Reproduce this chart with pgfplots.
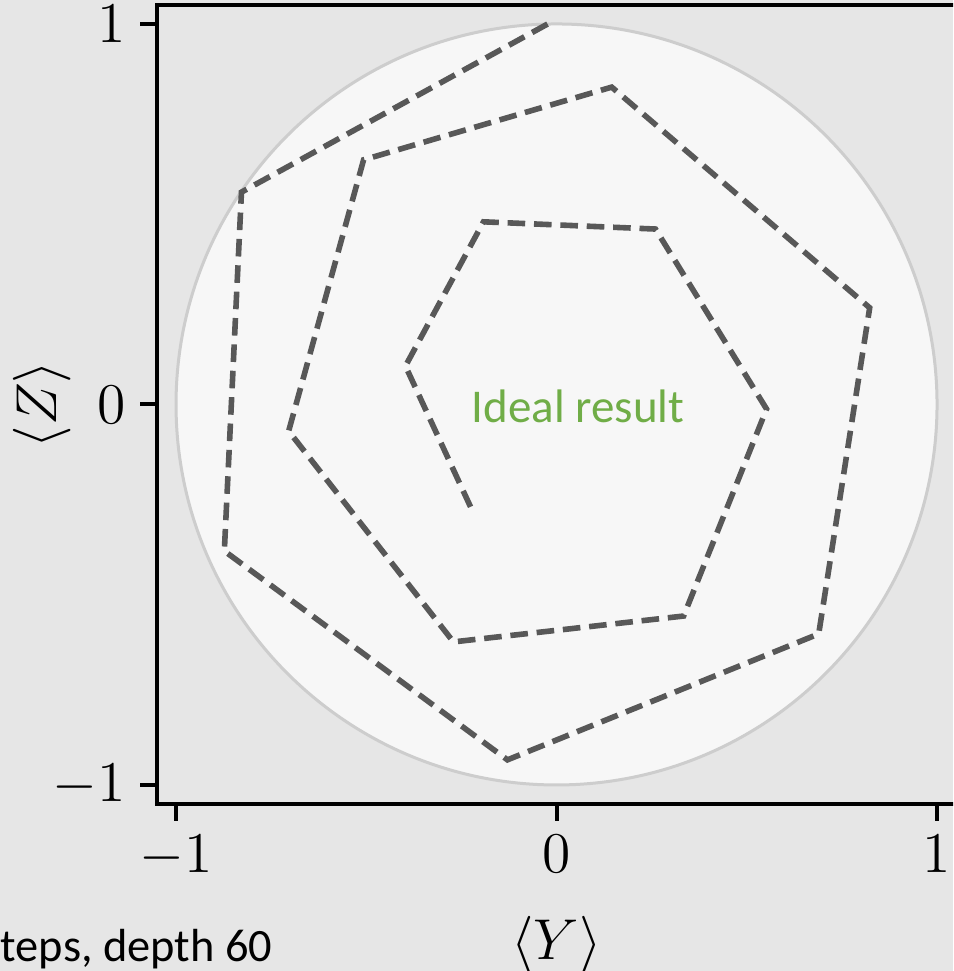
\documentclass[border=0pt]{standalone}
\usepackage{fontspec}
\usepackage{pgfplots}
\pgfplotsset{compat=1.18}
\newfontfamily\carlito{Carlito}
\definecolor{pagebg}{RGB}{230,230,230}
\definecolor{discfill}{RGB}{247,247,247}
\definecolor{discedge}{RGB}{205,205,205}
\definecolor{pathgray}{RGB}{88,88,88}
\definecolor{idealgreen}{RGB}{112,173,71}

\begin{document}
\begin{tikzpicture}
\useasboundingbox (0pt,0pt) rectangle (238.25pt,242.75pt);
\clip (0pt,0pt) rectangle (238.25pt,242.75pt);
\fill[pagebg] (0pt,0pt) rectangle (238.25pt,242.75pt);
\begin{axis}[
  anchor=south west, at={(39.25pt,41.75pt)},
  x=95.125pt, y=95.125pt,
  xmin=-1.05, xmax=1.05, ymin=-1.05, ymax=1.05,
  axis line style={line width=1pt, black},
  tick pos=left, tick align=outside,
  major tick length=4.25pt,
  every tick/.style={black, line width=1pt},
  xtick={-1,0,1}, ytick={-1,0,1},
  tick label style={font=\fontsize{14.4}{17}\selectfont},
  label style={font=\fontsize{14.4}{17}\selectfont},
  xlabel={$\langle Y\rangle$}, ylabel={$\langle Z\rangle$},
  xlabel style={at={(axis cs:0,-1.42)}, anchor=center},
  ylabel style={at={(axis cs:-1.351,0)}, anchor=center},
  clip=false,
]
% Bloch disc (Y-Z projection)
\draw[draw=discedge, fill=discfill, line width=0.75pt] (axis cs:0,0) circle[radius=1];

% trajectory of <Y>, <Z>
\addplot[pathgray, line width=1.4pt, dash pattern=on 4.4pt off 2.2pt, mark=none] coordinates {
  (-0.226,-0.269)
  (-0.397, 0.101)
  (-0.192, 0.480)
  ( 0.260, 0.461)
  ( 0.552,-0.012)
  ( 0.334,-0.556)
  (-0.271,-0.624)
  (-0.704,-0.070)
  (-0.507, 0.643)
  ( 0.145, 0.834)
  ( 0.823, 0.254)
  ( 0.689,-0.603)
  (-0.129,-0.934)
  (-0.873,-0.385)
  (-0.828, 0.558)
  (-0.005, 1.010)
};

\node[font=\carlito\fontsize{11.75}{14}\selectfont, text=idealgreen, anchor=base]
  at (axis cs:0.0565,-0.0486) {Ideal result};
\end{axis}
\node[font=\carlito\fontsize{11.6}{14}\selectfont, anchor=base west, inner sep=0pt]
  at (0pt,2.25pt) {teps, depth 60};
\end{tikzpicture}
\end{document}
